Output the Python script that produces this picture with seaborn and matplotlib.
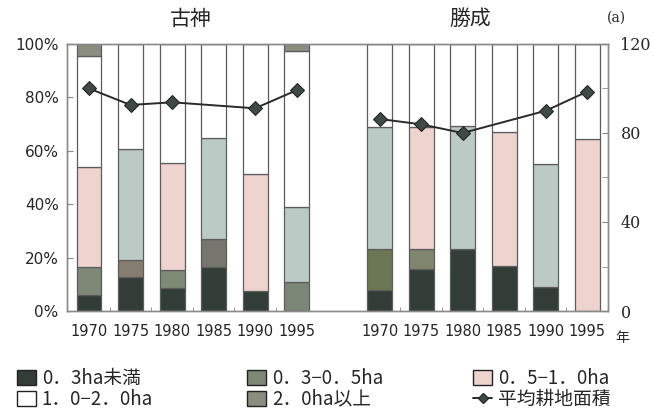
import matplotlib
matplotlib.use('Agg')
import matplotlib.pyplot as plt
from matplotlib.lines import Line2D
from matplotlib.patches import Patch
import numpy as np
import pandas as pd
import seaborn as sns

years = ['1970', '1975', '1980', '1985', '1990', '1995']
regions = ['古神', '勝成']

# 古神: share of farms by cultivated area (%)
kogami_lt03 = [5.9, 12.9, 8.8, 16.5, 7.5, 0.0]
kogami_03_05 = [10.4, 6.3, 6.6, 10.4, 0.0, 11.0]
kogami_05_10 = [37.6, 41.6, 40.0, 37.9, 43.9, 27.8]
kogami_10_20 = [41.7, 39.2, 44.6, 35.2, 48.6, 58.7]
kogami_ge20 = [4.4, 0.0, 0.0, 0.0, 0.0, 2.5]

# 勝成
katsu_lt03 = [7.8, 15.6, 23.1, 16.9, 9.1, 0.0]
katsu_03_05 = [15.3, 7.5, 0.0, 0.0, 0.0, 0.0]
katsu_05_10 = [46.0, 46.0, 46.3, 50.0, 45.9, 64.4]
katsu_10_20 = [30.9, 30.9, 30.6, 33.1, 45.0, 35.6]
katsu_ge20 = [0.0, 0.0, 0.0, 0.0, 0.0, 0.0]

# average cultivated area (a), 1985 not plotted
kogami_avg = [100.0, 92.6, 93.8, np.nan, 91.1, 99.2]
katsu_avg = [86.3, 83.9, 80.0, np.nan, 90.0, 98.6]

legend_labels = ['0．3ha未満', '0．3−0．5ha', '0．5−1．0ha',
                 '1．0−2．0ha', '2．0ha以上', '平均耕地面積']

# colours (the scan tints the middle band two ways)
c_dark = '#333d37'
c_pink = '#eed3cf'
c_blue = '#bccac6'
c_top = '#8b8d80'
kogami_mid = [c_pink, c_blue, c_pink, c_blue, c_pink, c_blue]
katsu_mid = [c_blue, c_pink, c_blue, c_pink, c_blue, c_pink]
kogami_gray = ['#7f8777', '#857d70', '#7e8a76', '#76766e', '#7f8777', '#7b8676']
katsu_gray = ['#6b7654', '#808570', '#7f8777', '#7f8777', '#7f8777', '#7f8777']

sns.set_style('ticks')
plt.rcParams['font.family'] = ['Noto Sans CJK JP', 'DejaVu Sans']

fig = plt.figure(figsize=(6.56, 4.11), dpi=100)
ax = fig.add_axes([67 / 656, 100 / 411, 541 / 656, 267 / 411])

x_kogami = np.arange(6)
x_katsu = np.arange(6) + 7

groups = [
    (x_kogami, [(kogami_lt03, [c_dark] * 6), (kogami_03_05, kogami_gray),
                (kogami_05_10, kogami_mid), (kogami_10_20, ['white'] * 6),
                (kogami_ge20, [c_top] * 6)]),
    (x_katsu, [(katsu_lt03, [c_dark] * 6), (katsu_03_05, katsu_gray),
               (katsu_05_10, katsu_mid), (katsu_10_20, ['white'] * 6),
               (katsu_ge20, [c_top] * 6)]),
]
for xs, layers in groups:
    bottom = np.zeros(6)
    for vals, cols in layers:
        vals = np.array(vals)
        ax.bar(xs, vals, bottom=bottom, width=0.6, color=cols,
               edgecolor='#5c5c5c', linewidth=0.9, zorder=2)
        bottom += vals

ax.set_xlim(-0.53, 12.5)
ax.set_ylim(0, 100)
ax.set_yticks(range(0, 101, 20))
ax.set_yticklabels([f'{v}%' for v in range(0, 101, 20)],
                   family=['Liberation Sans Narrow', 'DejaVu Sans'], fontsize=11)
ax.set_xticks(list(x_kogami) + list(x_katsu))
ax.set_xticklabels(years + years, family=['Liberation Sans Narrow', 'DejaVu Sans'],
                   fontsize=10.5)
ax.set_xticks([v + 0.5 for v in range(12) if v not in (5, 6)], minor=True)
ax.tick_params(axis='x', which='major', length=0, pad=9)
ax.tick_params(axis='x', which='minor', direction='in', length=3, color='#888')
ax.tick_params(axis='y', direction='in', length=4, color='#888', pad=6)

ax2 = ax.twinx()
avg = pd.DataFrame({
    'x': list(x_kogami) + list(x_katsu),
    'area': kogami_avg + katsu_avg,
    'region': [regions[0]] * 6 + [regions[1]] * 6,
}).dropna()
for r, d in avg.groupby('region'):
    sns.lineplot(data=d, x='x', y='area', ax=ax2, color='#2a2a2a', linewidth=1.4,
                 marker='D', markersize=7.5, markerfacecolor='#3e4a43',
                 markeredgecolor='#222', legend=False, zorder=3)
ax2.set_ylim(0, 120)
ax2.set_yticks([0, 40, 80, 120])
ax2.set_yticks([20, 60, 100], minor=True)
ax2.set_yticklabels(['0', '40', '80', '120'], family='DejaVu Serif', fontsize=11.5)
ax2.tick_params(axis='y', which='both', direction='in', length=4, color='#888', pad=9)
ax2.set_ylabel('')
ax2.set_xlabel('')
ax.set_xlabel('')

for a in (ax, ax2):
    for s in a.spines.values():
        s.set_color('#8a8a8a')
        s.set_linewidth(1.0)

fig.text(191 / 656, 1 - 19 / 411, '古神', ha='center', va='center', fontsize=15)
fig.text(470 / 656, 1 - 19 / 411, '勝成', ha='center', va='center', fontsize=15)
fig.text(616 / 656, 1 - 18 / 411, '(a)', ha='center', va='center', fontsize=10,
         family='DejaVu Serif')
fig.text(622 / 656, 1 - 338 / 411, '年', ha='center', va='center', fontsize=10)

handles = [
    Patch(facecolor=c_dark, edgecolor='#222'),
    Patch(facecolor='#7f8777', edgecolor='#222'),
    Patch(facecolor=c_pink, edgecolor='#222'),
    Patch(facecolor='white', edgecolor='#222'),
    Patch(facecolor=c_top, edgecolor='#222'),
    Line2D([], [], color='#2a2a2a', marker='D', markersize=5,
           markerfacecolor='#3e4a43', linewidth=1.4),
]
col_x = [8, 238, 464]
for i, cx in enumerate(col_x):
    leg = fig.legend([handles[i], handles[i + 3]], [legend_labels[i], legend_labels[i + 3]],
                     loc='lower left', bbox_to_anchor=(cx / 656, -0.02), frameon=False,
                     fontsize=13.5, handlelength=1.0, handleheight=0.9,
                     handletextpad=0.3, labelspacing=0.0, borderaxespad=0.1)

fig.savefig('out.png', dpi=100)
